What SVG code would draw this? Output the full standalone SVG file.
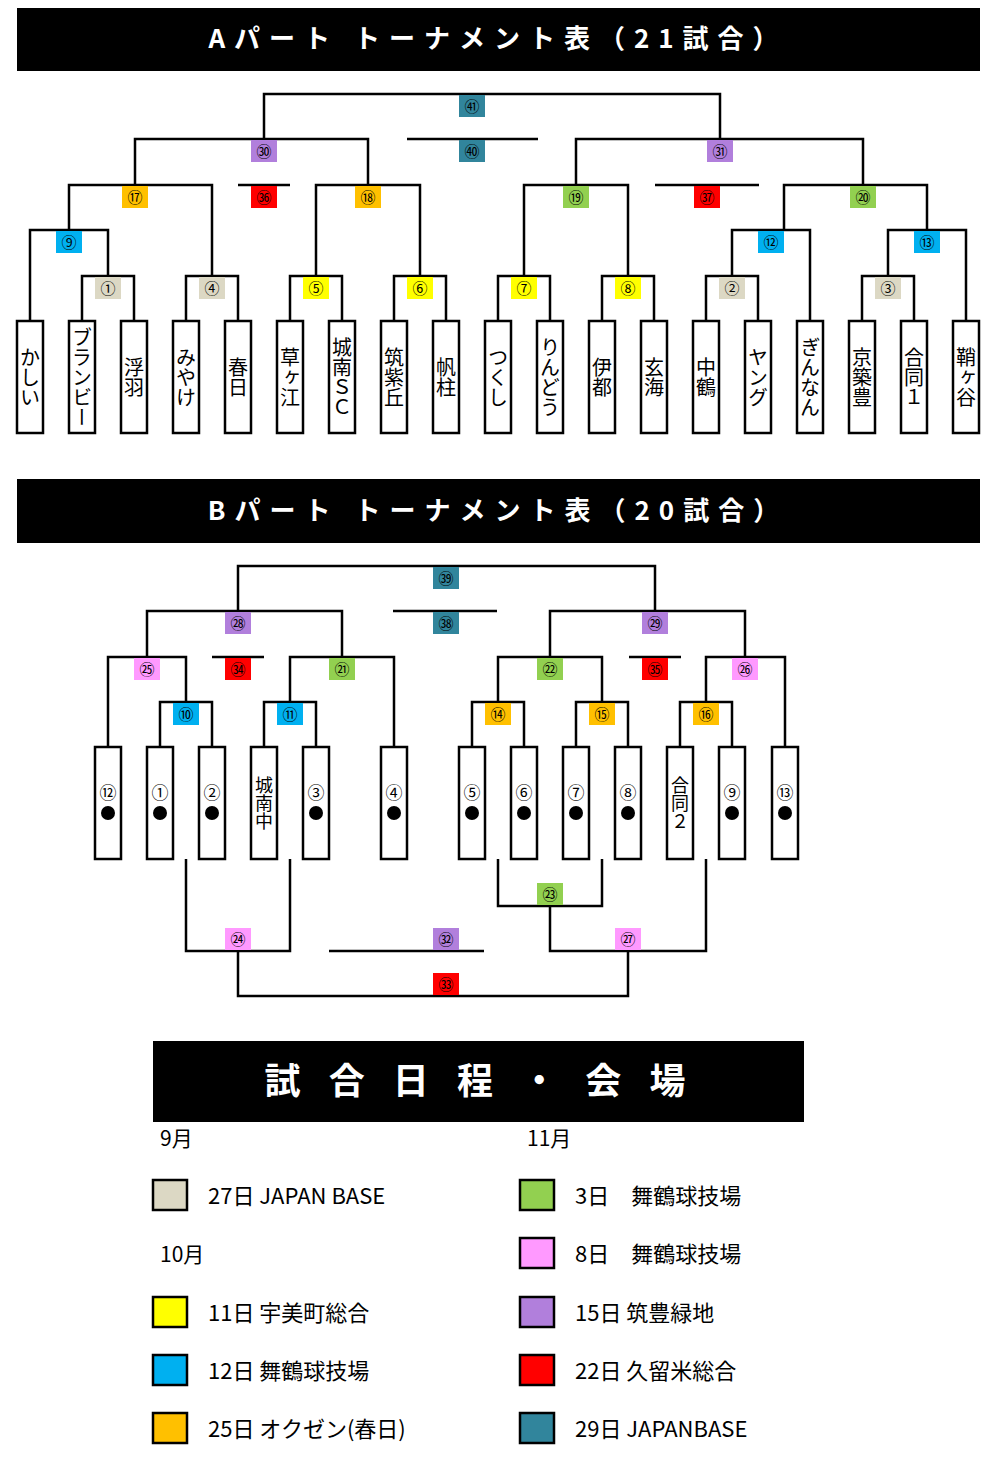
<svg xmlns="http://www.w3.org/2000/svg" width="1000" height="1466" viewBox="0 0 1000 1466">
<style>
text{font-family:"Noto Sans CJK JP","Liberation Sans",sans-serif;}
.hd{fill:#fff;font-weight:bold;font-size:26px;letter-spacing:9px;text-anchor:middle}
.box{fill:#fff;stroke:#000;stroke-width:2.5}
.ln{fill:none;stroke:#000;stroke-width:2.5}
.lb{font-size:15px;text-anchor:middle}
.tm{font-size:20px;writing-mode:vertical-rl;text-anchor:middle}
.cn{font-size:17px;text-anchor:middle}
.lg{font-size:22px}
.sw{stroke:#000;stroke-width:2.5}
.be{fill:#dcd8c4}.ye{fill:#ffff00}.bl{fill:#00b0f0}.or{fill:#ffc000}.gr{fill:#92d050}.pk{fill:#ff99ff}.pu{fill:#b17fdc}.rd{fill:#ff0000}.te{fill:#31859c}
</style>
<rect width="1000" height="1466" fill="#fff"/>
<g id="headerA"><rect x="17" y="8" width="963" height="63" fill="#000"/><text class="hd" x="498" y="48">Aパート トーナメント表（21試合）</text></g>
<g id="headerB"><rect x="17" y="479" width="963" height="64" fill="#000"/><text class="hd" x="498" y="520">Bパート トーナメント表（20試合）</text></g>
<g id="connectors">
<path class="ln" d="M30,321V230H108V276M82,321V276H134V321M186,321V276H238V321M69,230V185H212V276M290,321V276H342V321M394,321V276H446V321M316,276V185H420V276M135,185V139H368V185M238,185H290M407,139H538M264,139V94H720V139M498,321V276H550V321M602,321V276H654V321M524,276V185H628V276M706,321V276H758V321M732,276V230H810V321M862,321V276H914V321M888,276V230H966V321M784,230V185H927V230M655,185H759M576,185V139H863V185"/>
<path class="ln" d="M160,747V702H212V747M264,747V702H316V747M108,747V657H186V702M290,702V657H394V747M147,657V611H342V657M212,657H264M472,747V702H524V747M576,747V702H628V747M680,747V702H732V747M498,702V657H602V702M706,702V657H785V747M550,657V611H745V657M629,657H681M393,611H497M238,611V566H655V611M186,859V951H290V859M498,859V906H602V859M550,906V951H706V859M329,951H484M238,951V996H628V951"/>
</g>
<g id="teamsA">
<rect class="box" x="17" y="321" width="26" height="112"/><text class="tm" x="30" y="377">かしい</text>
<rect class="box" x="69" y="321" width="26" height="112"/><text class="tm" x="82" y="377">ブランビー</text>
<rect class="box" x="121" y="321" width="26" height="112"/><text class="tm" x="134" y="377">浮羽</text>
<rect class="box" x="173" y="321" width="26" height="112"/><text class="tm" x="186" y="377">みやけ</text>
<rect class="box" x="225" y="321" width="26" height="112"/><text class="tm" x="238" y="377">春日</text>
<rect class="box" x="277" y="321" width="26" height="112"/><text class="tm" x="290" y="377">草ヶ江</text>
<rect class="box" x="329" y="321" width="26" height="112"/><text class="tm" x="342" y="377">城南ＳＣ</text>
<rect class="box" x="381" y="321" width="26" height="112"/><text class="tm" x="394" y="377">筑紫丘</text>
<rect class="box" x="433" y="321" width="26" height="112"/><text class="tm" x="446" y="377">帆柱</text>
<rect class="box" x="485" y="321" width="26" height="112"/><text class="tm" x="498" y="377">つくし</text>
<rect class="box" x="537" y="321" width="26" height="112"/><text class="tm" x="550" y="377">りんどう</text>
<rect class="box" x="589" y="321" width="26" height="112"/><text class="tm" x="602" y="377">伊都</text>
<rect class="box" x="641" y="321" width="26" height="112"/><text class="tm" x="654" y="377">玄海</text>
<rect class="box" x="693" y="321" width="26" height="112"/><text class="tm" x="706" y="377">中鶴</text>
<rect class="box" x="745" y="321" width="26" height="112"/><text class="tm" x="758" y="377">ヤング</text>
<rect class="box" x="797" y="321" width="26" height="112"/><text class="tm" x="810" y="377">ぎんなん</text>
<rect class="box" x="849" y="321" width="26" height="112"/><text class="tm" x="862" y="377">京築豊</text>
<rect class="box" x="901" y="321" width="26" height="112"/><text class="tm" x="914" y="377">合同１</text>
<rect class="box" x="953" y="321" width="26" height="112"/><text class="tm" x="966" y="377">鞘ヶ谷</text>
</g>
<g id="teamsB">
<rect class="box" x="95" y="747" width="26" height="112"/><text class="cn" x="108" y="799">⑫</text><circle cx="108" cy="813" r="7"/>
<rect class="box" x="147" y="747" width="26" height="112"/><text class="cn" x="160" y="799">①</text><circle cx="160" cy="813" r="7"/>
<rect class="box" x="199" y="747" width="26" height="112"/><text class="cn" x="212" y="799">②</text><circle cx="212" cy="813" r="7"/>
<rect class="box" x="251" y="747" width="26" height="112"/><text class="tm" x="264" y="803" style="font-size:18px">城南中</text>
<rect class="box" x="303" y="747" width="26" height="112"/><text class="cn" x="316" y="799">③</text><circle cx="316" cy="813" r="7"/>
<rect class="box" x="381" y="747" width="26" height="112"/><text class="cn" x="394" y="799">④</text><circle cx="394" cy="813" r="7"/>
<rect class="box" x="459" y="747" width="26" height="112"/><text class="cn" x="472" y="799">⑤</text><circle cx="472" cy="813" r="7"/>
<rect class="box" x="511" y="747" width="26" height="112"/><text class="cn" x="524" y="799">⑥</text><circle cx="524" cy="813" r="7"/>
<rect class="box" x="563" y="747" width="26" height="112"/><text class="cn" x="576" y="799">⑦</text><circle cx="576" cy="813" r="7"/>
<rect class="box" x="615" y="747" width="26" height="112"/><text class="cn" x="628" y="799">⑧</text><circle cx="628" cy="813" r="7"/>
<rect class="box" x="667" y="747" width="26" height="112"/><text class="tm" x="680" y="803" style="font-size:18px">合同２</text>
<rect class="box" x="719" y="747" width="26" height="112"/><text class="cn" x="732" y="799">⑨</text><circle cx="732" cy="813" r="7"/>
<rect class="box" x="772" y="747" width="26" height="112"/><text class="cn" x="785" y="799">⑬</text><circle cx="785" cy="813" r="7"/>
</g>
<g id="labelsA">
<rect class="be" x="95" y="277" width="26" height="22"/><text class="lb" x="108" y="294">①</text>
<rect class="be" x="199" y="277" width="26" height="22"/><text class="lb" x="212" y="294">④</text>
<rect class="ye" x="303" y="277" width="26" height="22"/><text class="lb" x="316" y="294">⑤</text>
<rect class="ye" x="407" y="277" width="26" height="22"/><text class="lb" x="420" y="294">⑥</text>
<rect class="ye" x="511" y="277" width="26" height="22"/><text class="lb" x="524" y="294">⑦</text>
<rect class="ye" x="615" y="277" width="26" height="22"/><text class="lb" x="628" y="294">⑧</text>
<rect class="be" x="719" y="277" width="26" height="22"/><text class="lb" x="732" y="294">②</text>
<rect class="be" x="875" y="277" width="26" height="22"/><text class="lb" x="888" y="294">③</text>
<rect class="bl" x="56" y="231" width="26" height="22"/><text class="lb" x="69" y="248">⑨</text>
<rect class="bl" x="758" y="231" width="26" height="22"/><text class="lb" x="771" y="248">⑫</text>
<rect class="bl" x="914" y="231" width="26" height="22"/><text class="lb" x="927" y="248">⑬</text>
<rect class="or" x="122" y="186" width="26" height="22"/><text class="lb" x="135" y="203">⑰</text>
<rect class="rd" x="251" y="186" width="26" height="22"/><text class="lb" x="264" y="203">㊱</text>
<rect class="or" x="355" y="186" width="26" height="22"/><text class="lb" x="368" y="203">⑱</text>
<rect class="gr" x="563" y="186" width="26" height="22"/><text class="lb" x="576" y="203">⑲</text>
<rect class="rd" x="694" y="186" width="26" height="22"/><text class="lb" x="707" y="203">㊲</text>
<rect class="gr" x="850" y="186" width="26" height="22"/><text class="lb" x="863" y="203">⑳</text>
<rect class="pu" x="251" y="140" width="26" height="22"/><text class="lb" x="264" y="157">㉚</text>
<rect class="te" x="459" y="140" width="26" height="22"/><text class="lb" x="472" y="157">㊵</text>
<rect class="pu" x="707" y="140" width="26" height="22"/><text class="lb" x="720" y="157">㉛</text>
<rect class="te" x="459" y="95" width="26" height="22"/><text class="lb" x="472" y="112">㊶</text>
</g>
<g id="labelsB">
<rect class="bl" x="173" y="703" width="26" height="22"/><text class="lb" x="186" y="720">⑩</text>
<rect class="bl" x="277" y="703" width="26" height="22"/><text class="lb" x="290" y="720">⑪</text>
<rect class="or" x="485" y="703" width="26" height="22"/><text class="lb" x="498" y="720">⑭</text>
<rect class="or" x="589" y="703" width="26" height="22"/><text class="lb" x="602" y="720">⑮</text>
<rect class="or" x="693" y="703" width="26" height="22"/><text class="lb" x="706" y="720">⑯</text>
<rect class="pk" x="134" y="658" width="26" height="22"/><text class="lb" x="147" y="675">㉕</text>
<rect class="rd" x="225" y="658" width="26" height="22"/><text class="lb" x="238" y="675">㉞</text>
<rect class="gr" x="329" y="658" width="26" height="22"/><text class="lb" x="342" y="675">㉑</text>
<rect class="gr" x="537" y="658" width="26" height="22"/><text class="lb" x="550" y="675">㉒</text>
<rect class="rd" x="642" y="658" width="26" height="22"/><text class="lb" x="655" y="675">㉟</text>
<rect class="pk" x="732" y="658" width="26" height="22"/><text class="lb" x="745" y="675">㉖</text>
<rect class="pu" x="225" y="612" width="26" height="22"/><text class="lb" x="238" y="629">㉘</text>
<rect class="te" x="433" y="612" width="26" height="22"/><text class="lb" x="446" y="629">㊳</text>
<rect class="pu" x="642" y="612" width="26" height="22"/><text class="lb" x="655" y="629">㉙</text>
<rect class="te" x="433" y="567" width="26" height="22"/><text class="lb" x="446" y="584">㊴</text>
<rect class="gr" x="537" y="883" width="26" height="22"/><text class="lb" x="550" y="900">㉓</text>
<rect class="pk" x="225" y="928" width="26" height="22"/><text class="lb" x="238" y="945">㉔</text>
<rect class="pu" x="433" y="928" width="26" height="22"/><text class="lb" x="446" y="945">㉜</text>
<rect class="pk" x="615" y="928" width="26" height="22"/><text class="lb" x="628" y="945">㉗</text>
<rect class="rd" x="433" y="973" width="26" height="22"/><text class="lb" x="446" y="990">㉝</text>
</g>
<g id="legend">
<rect x="153" y="1041" width="651" height="81" fill="#000"/>
<text x="480" y="1094" style="fill:#fff;font-size:36px;font-weight:bold;text-anchor:middle;letter-spacing:10px">試 合 日 程 ・ 会 場</text>
<text class="lg" x="160" y="1146" style="font-size:21px">9月</text>
<text class="lg" x="527" y="1146" style="font-size:21px">11月</text>
<text class="lg" x="160" y="1262" style="font-size:21px">10月</text>
<rect class="sw be" x="153" y="1180" width="34" height="30"/><text class="lg" x="208" y="1204">27日 JAPAN BASE</text>
<rect class="sw ye" x="153" y="1297" width="34" height="30"/><text class="lg" x="208" y="1321">11日 宇美町総合</text>
<rect class="sw bl" x="153" y="1355" width="34" height="30"/><text class="lg" x="208" y="1379">12日 舞鶴球技場</text>
<rect class="sw or" x="153" y="1413" width="34" height="30"/><text class="lg" x="208" y="1437">25日 オクゼン(春日)</text>
<rect class="sw gr" x="520" y="1180" width="34" height="30"/><text class="lg" x="575" y="1204">3日　舞鶴球技場</text>
<rect class="sw pk" x="520" y="1238" width="34" height="30"/><text class="lg" x="575" y="1262">8日　舞鶴球技場</text>
<rect class="sw pu" x="520" y="1297" width="34" height="30"/><text class="lg" x="575" y="1321">15日 筑豊緑地</text>
<rect class="sw rd" x="520" y="1355" width="34" height="30"/><text class="lg" x="575" y="1379">22日 久留米総合</text>
<rect class="sw te" x="520" y="1413" width="34" height="30"/><text class="lg" x="575" y="1437">29日 JAPANBASE</text>
</g>
</svg>
